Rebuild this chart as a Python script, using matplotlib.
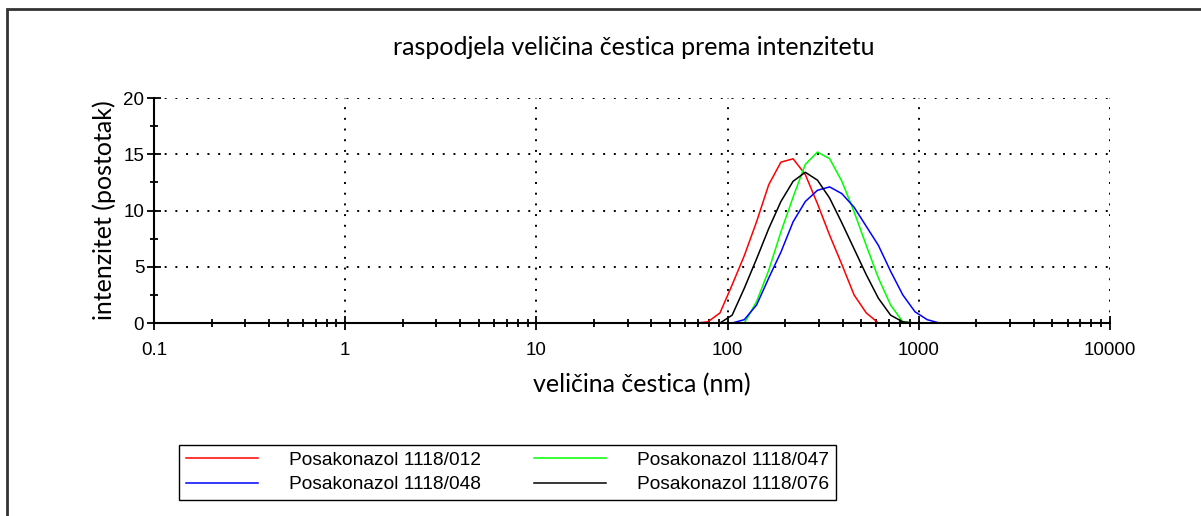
import numpy as np
import matplotlib.pyplot as plt
from matplotlib.patches import Rectangle

# size classes (nm) and intensity (%) per sample
size_nm = [68.06, 78.82, 91.28, 105.7, 122.4, 141.8, 164.2, 190.1, 220.2, 255.0,
           295.3, 342.0, 396.1, 458.7, 531.2, 615.1, 712.4, 825.0, 955.4, 1106, 1281]
s012 = [0, 0.1, 0.9, 3.4, 6.0, 9.0, 12.3, 14.3, 14.6, 13.2,
        10.6, 7.8, 5.2, 2.5, 0.9, 0, 0, 0, 0, 0, 0]
s047 = [0, 0, 0, 0, 0, 1.9, 4.7, 8.1, 11.2, 14.1,
        15.2, 14.6, 12.6, 9.9, 6.9, 4.0, 1.6, 0.1, 0, 0, 0]
s048 = [0, 0, 0, 0, 0.3, 1.6, 4.0, 6.3, 9.0, 10.8,
        11.8, 12.1, 11.5, 10.3, 8.6, 6.9, 4.6, 2.5, 1.0, 0.3, 0]
s076 = [0, 0, 0, 0.7, 3.1, 5.7, 8.4, 10.8, 12.6, 13.4,
        12.7, 11.1, 8.9, 6.6, 4.3, 2.2, 0.7, 0.1, 0, 0, 0]
labels = ['Posakonazol 1118/012', 'Posakonazol 1118/047',
          'Posakonazol 1118/048', 'Posakonazol 1118/076']

fig = plt.figure(figsize=(12.01, 5.16), dpi=100)
ax = fig.add_axes([0.1282, 0.374, 0.796, 0.436])

l1, = ax.plot(size_nm, s012, color='#ff0000', lw=1.1)
l2, = ax.plot(size_nm, s047, color='#00ff00', lw=1.1)
l3, = ax.plot(size_nm, s048, color='#0000ff', lw=1.1)
l4, = ax.plot(size_nm, s076, color='black', lw=1.1)

ax.set_xscale('log')
ax.set_xlim(0.1, 10000)
ax.set_ylim(0, 20)
ax.set_xticks([0.1, 1, 10, 100, 1000, 10000])
ax.set_xticklabels(['0.1', '1', '10', '100', '1000', '10000'])
ax.set_yticks([0, 5, 10, 15, 20])
ax.set_yticks([2.5, 7.5, 12.5, 17.5], minor=True)
for t in ax.get_xticklabels() + ax.get_yticklabels():
    t.set_family('Liberation Sans')

for s in ['top', 'right']:
    ax.spines[s].set_visible(False)
for s in ['left', 'bottom']:
    ax.spines[s].set_linewidth(1.5)

ax.tick_params(which='major', direction='inout', length=10, width=1.3,
               labelsize=13.5, colors='black')
ax.tick_params(which='minor', direction='inout', length=6, width=1.3)
ax.tick_params(axis='x', pad=9)
ax.tick_params(axis='y', pad=2)

for v in [5, 10, 15, 20]:
    ax.axhline(v, color='black', lw=1.4, ls=(0, (1, 4.5)), zorder=0)
for v in [1, 10, 100, 1000, 10000]:
    ax.axvline(v, color='black', lw=1.4, ls=(0, (1, 4.5)), zorder=0)

ax.set_xlabel('veličina čestica (nm)', family='Lato', fontsize=18, labelpad=10)
ax.xaxis.label.set_x(0.5105)
ax.set_ylabel('intenzitet (postotak)', family='Lato', fontsize=18, labelpad=5)
fig.text(0.528, 0.908, 'raspodjela veličina čestica prema intenzitetu',
         family='Lato', fontsize=18, ha='center', va='center')

fig.legend([l1, l3, l2, l4],
           [labels[0], labels[2], labels[1], labels[3]],
           ncol=2, loc='lower left', bbox_to_anchor=(0.149, 0.031, 0.547, 0.104),
           mode='expand', borderaxespad=0,
           prop={'family': 'Liberation Sans', 'size': 13.8},
           handlelength=3.8, handletextpad=1.6, labelspacing=0.35,
           borderpad=0.35, fancybox=False, edgecolor='black', framealpha=1)

fig.patches.append(Rectangle((7 / 1201, -0.5), 1.5, 0.5 + 1 - 9 / 516,
                             transform=fig.transFigure, fill=False,
                             edgecolor='#333333', lw=2))

fig.savefig('out.png', dpi=100)
